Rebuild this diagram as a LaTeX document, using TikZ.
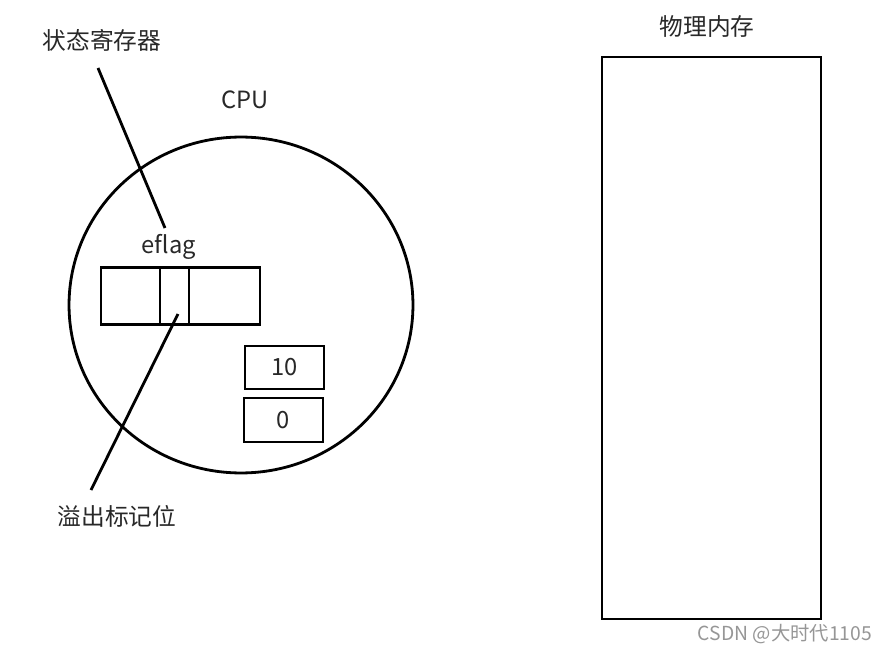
\documentclass[tikz,border=0pt]{standalone}
\usepackage{fontspec}
\setmainfont{Noto Sans CJK SC}
\usepackage{tikz}
\usetikzlibrary{
  shapes.geometric,
  positioning
}
\usepackage{xcolor}
\definecolor{ctext}{RGB}{40,40,40}
\definecolor{cmark}{RGB}{150,150,150}
\tikzset{
  lbl/.style={
    inner sep=0pt, text=ctext,
    font=\fontsize{13.5}{15}\selectfont
  },
  cell/.style={
    rectangle, draw=black, line width=1.6pt,
    inner sep=0pt, outer sep=0pt,
    font=\fontsize{13.5}{15}\selectfont, text=ctext
  },
  cpuring/.style={
    ellipse, draw=black, line width=1.6pt, inner sep=0pt,
    minimum width=6.88cm, minimum height=6.72cm
  },
  wire/.style={line width=1.6pt, color=black}
}

\begin{document}
\begin{tikzpicture}[x=0.02cm, y=-0.02cm]

    \useasboundingbox (0,0) rectangle (886,652);

    %% CPU
    \node[cpuring] (cpu) at (241,305) {};
    \node[lbl] (cpulbl) at (245,100) {CPU};

    %% eflag register
    \node[cell, minimum width=1.18cm, minimum height=1.14cm] (fa) at (130.5,296) {};
    \node[cell, minimum width=0.58cm, minimum height=1.14cm, right=0pt of fa] (fb) {};
    \node[cell, minimum width=1.42cm, minimum height=1.14cm, right=0pt of fb] (fc) {};
    \node[lbl] (eflag) at (169,247) {eflag};

    %% values
    \node[cell, minimum width=1.58cm, minimum height=0.86cm] (rten) at (284.5,367.5) {10};
    \node[cell, minimum width=1.58cm, minimum height=0.88cm] (rzero) at (283.5,420) {0};

    %% labels
    \node[lbl] (status) at (102,40) {状态寄存器};
    \node[lbl] (overflow) at (117,516) {溢出标记位};
    \coordinate (statusend) at (98,68);
    \coordinate (statustip) at (165,228);
    \coordinate (overend) at (91,490);
    \coordinate (overtip) at (178,314);
    \draw[wire] (statusend) -- (statustip);
    \draw[wire] (overtip) -- (overend);

    %% physical memory
    \node[lbl] (memlbl) at (707,27) {物理内存};
    \node[cell, minimum width=4.38cm, minimum height=11.24cm] (mem) at (711.5,338) {};

    %% watermark
    \node[inner sep=0pt, text=cmark, font=\fontsize{11}{13}\selectfont]
      (mark) at (785,634) {CSDN @大时代1105};

\end{tikzpicture}
\end{document}
